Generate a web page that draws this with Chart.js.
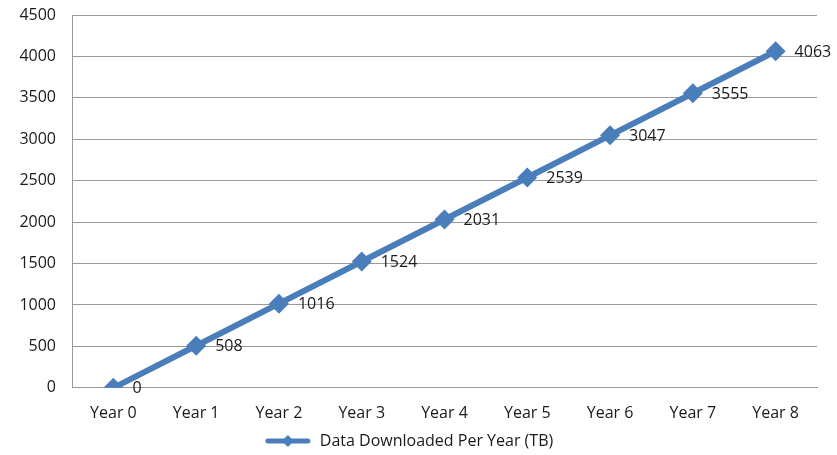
<!DOCTYPE html>
<html>
<head>
<meta charset="utf-8">
<script src="https://cdn.jsdelivr.net/npm/chart.js@4/dist/chart.umd.min.js"></script>
<style>
  html,body{margin:0;padding:0;background:#fff;}
  #wrap{width:837px;height:455px;}
</style>
</head>
<body>
<div id="wrap"><canvas id="chart" width="837" height="455"></canvas></div>
<script>
const years = ['Year 0','Year 1','Year 2','Year 3','Year 4','Year 5','Year 6','Year 7','Year 8'];
const downloaded = [0, 508, 1016, 1524, 2031, 2539, 3047, 3555, 4063];
const seriesName = 'Data Downloaded Per Year (TB)';
const lineColor = '#4a7ebb';
const fontFamily = "'Open Sans', 'Noto Sans', sans-serif";
const textColor = '#1a1a1a';

// legend symbol: short line with a diamond
const legendIcon = document.createElement('canvas');
legendIcon.width = 46; legendIcon.height = 14;
{
  const c = legendIcon.getContext('2d');
  c.strokeStyle = lineColor; c.lineWidth = 5; c.lineCap = 'round';
  c.beginPath(); c.moveTo(3,7); c.lineTo(43,7); c.stroke();
  c.fillStyle = lineColor;
  c.beginPath(); c.moveTo(23,1); c.lineTo(29,7); c.lineTo(23,13); c.lineTo(17,7); c.closePath(); c.fill();
}

const valueLabels = {
  id:'valueLabels',
  afterDatasetsDraw(chart){
    const ctx = chart.ctx;
    const meta = chart.getDatasetMeta(0);
    ctx.save();
    ctx.font = '16px ' + fontFamily;
    ctx.fillStyle = textColor;
    ctx.textAlign = 'left';
    ctx.textBaseline = 'middle';
    meta.data.forEach((pt,i)=>{
      ctx.fillText(String(downloaded[i]), pt.x + 19, pt.y + 1);
    });
    ctx.restore();
  }
};

const chart = document.querySelector('#chart').getContext('2d');
new Chart(chart,{
  type:'line',
  data:{
    labels:years,
    datasets:[{
      label:seriesName,
      data:downloaded,
      borderColor:lineColor,
      backgroundColor:lineColor,
      borderWidth:6,
      pointStyle:'rectRot',
      pointRadius:10,
      pointHoverRadius:10,
      pointBackgroundColor:lineColor,
      pointBorderWidth:0,
      tension:0
    }]
  },
  options:{
    responsive:false,
    animation:false,
    devicePixelRatio:1,
    layout:{padding:{left:0,right:20,top:15,bottom:-4}},
    scales:{
      x:{
        offset:true,
        afterFit(s){ s.height -= 8; },
        grid:{display:false, drawTicks:false},
        border:{color:'#999', width:1},
        ticks:{color:textColor, font:{family:fontFamily, size:16}, padding:16, maxRotation:0}
      },
      y:{
        min:0, max:4500,
        afterFit(s){ s.width = 72; s.paddingTop = 0; s.paddingBottom = 0; },
        grid:{color:'#999', drawTicks:false},
        border:{color:'#999', width:1},
        ticks:{stepSize:500, color:textColor, font:{family:fontFamily, size:16}, padding:16,
          callback:v => String(v)}
      }
    },
    plugins:{
      tooltip:{enabled:false},
      legend:{
        position:'bottom',
        labels:{
          usePointStyle:true,
          pointStyleWidth:48,
          color:textColor,
          font:{family:fontFamily, size:16},
          generateLabels(){
            return [{text:seriesName, pointStyle:legendIcon, fontColor:textColor, lineWidth:0, strokeStyle:'transparent', fillStyle:'transparent', datasetIndex:0}];
          },
          padding:2
        }
      }
    }
  },
  plugins:[valueLabels]
});
</script>
</body>
</html>
